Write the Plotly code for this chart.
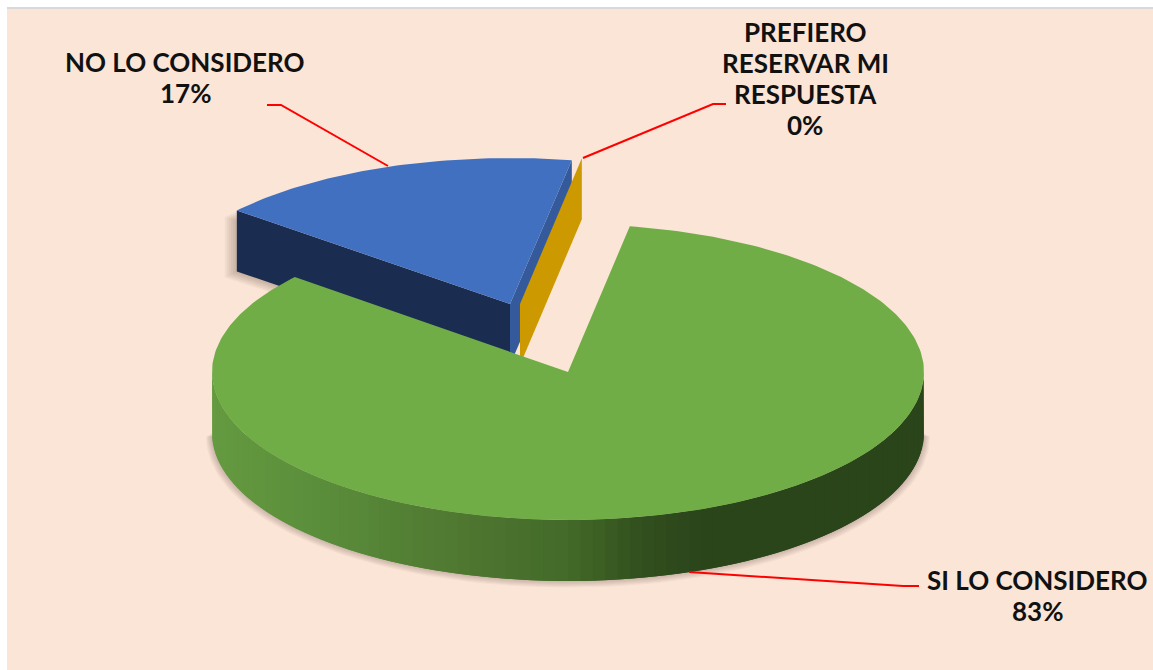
import numpy as np
import plotly.graph_objects as go

categories = ["SI LO CONSIDERO", "NO LO CONSIDERO", "PREFIERO RESERVAR MI RESPUESTA"]
values = [83.3, 16.7, 0.0]
label_lines = [["SI LO CONSIDERO"], ["NO LO CONSIDERO"], ["PREFIERO", "RESERVAR MI", "RESPUESTA"]]

# Pie geometry (pixel-like axis units) and styling
FIRST_ANGLE = 10.0
RX, RY, BLUE_RY, DEPTH = 356.0, 148.0, 146.0, 61.0
CENTERS = {0: (568.0, 372.0), 1: (510.0, 304.0), 2: (520.0, 304.0)}
LABEL_POS = {0: (1037, 580), 1: (185, 62), 2: (805, 32)}
LINE_STEP = 31
BG = "#FBE5D6"
GREEN_TOP, BLUE_TOP = "#70AD47", "#4070BF"
BLUE_WALL, BLUE_CUT, GOLD = "#1A2C50", "#355A9C", "#CC9900"
WALL_STOPS = [(212, (100, 154, 64)), (330, (90, 140, 58)), (470, (78, 118, 48)),
              (568, (67, 106, 40)), (640, (50, 80, 30)), (700, (43, 69, 27)), (924, (43, 69, 27))]

fig = go.Figure()


def pt(c, deg, dz=0.0, rx=RX, ry=RY):
    a = np.radians(deg)
    return c[0] + rx * np.sin(a), c[1] - ry * np.cos(a) + dz


def poly(xs, ys, color, line=0.0):
    fig.add_trace(go.Scatter(x=list(xs), y=list(ys), mode="lines", fill="toself", fillcolor=color,
                             line=dict(color=color, width=line), hoverinfo="skip", showlegend=False))


def wall_color(x):
    xs = [s[0] for s in WALL_STOPS]
    rgb = [int(round(np.interp(x, xs, [s[1][i] for s in WALL_STOPS]))) for i in range(3)]
    return f"rgb({rgb[0]},{rgb[1]},{rgb[2]})"


# slice angles derived from the values
total = sum(values)
spans, start = [], FIRST_ANGLE
for v in values:
    spans.append((start, start + v / total * 360.0))
    start += v / total * 360.0

# green shadow
c0 = CENTERS[0]
for off in range(1, 7):
    t = np.linspace(90, 270, 120)
    x, y = pt(c0, t, DEPTH + off * 0.6, RX + off, RY + off * 0.5)
    poly(x, y, "rgba(70,50,40,0.045)")

# blue slice
c1 = CENTERS[1]
b0, b1 = spans[1]
lx, ly = pt(c1, b0, ry=BLUE_RY)
rx_, ry_ = pt(c1, b1, ry=BLUE_RY)
for off in range(1, 7):
    poly([lx - off * 2, c1[0], c1[0], lx - off * 2],
         [ly + off, c1[1] + off, c1[1] + DEPTH + off, ly + DEPTH + off], "rgba(70,50,40,0.05)")
poly([lx, c1[0], c1[0], lx], [ly, c1[1], c1[1] + DEPTH, ly + DEPTH], BLUE_WALL)
poly([c1[0], rx_, rx_, c1[0]], [c1[1], ry_, ry_ + DEPTH, c1[1] + DEPTH], BLUE_CUT)
t = np.linspace(b0, b1, 60)
ax, ay = pt(c1, t, ry=BLUE_RY)
poly([c1[0], *ax], [c1[1], *ay], BLUE_TOP)

# gold slice: zero-size slice, only its cut face shows
c2 = CENTERS[2]
gx, gy = pt(c2, spans[2][0])
poly([c2[0], gx, gx, c2[0]], [c2[1], gy, gy + DEPTH, c2[1] + DEPTH], GOLD)

# green slice: front wall as overlapping bands (no seams), then the top face
g0, g1 = spans[0]
STEP = 2.0
edges = np.arange(90, 270, STEP)
for a0 in edges:
    a1 = min(a0 + 2 * STEP, 270.0)
    t = np.linspace(a0, a1, 7)
    tx, ty = pt(c0, t)
    bx, by = pt(c0, t[::-1], DEPTH)
    poly([*tx, *bx], [*ty, *by], wall_color(pt(c0, a0 + STEP / 2)[0]))
t = np.linspace(g0, g1, 300)
ax, ay = pt(c0, t)
poly([c0[0], *ax], [c0[1], *ay], GREEN_TOP)

# text labels, one annotation per line for exact leading
annotations = []
for i, lines in enumerate(label_lines):
    for j, line in enumerate(lines + [f"{round(values[i])}%"]):
        annotations.append(dict(x=LABEL_POS[i][0], y=LABEL_POS[i][1] + j * LINE_STEP, xref="x", yref="y",
                                text=line, showarrow=False, xanchor="center", yanchor="middle",
                                font=dict(family="Lato", size=26, color="#111111", weight=700)))

RED = dict(color="#FF0000", width=2)
leaders = [[(689, 572), (903, 586), (919, 586)],
           [(267, 105), (281, 105), (388, 166)],
           [(583, 158), (713, 104), (726, 104)]]
shapes = [
    dict(type="rect", xref="x", yref="y", x0=7, x1=1153, y0=9, y1=670, fillcolor=BG, line_width=0, layer="below"),
    dict(type="rect", xref="x", yref="y", x0=7, x1=1153, y0=7, y1=9, fillcolor="#D9D9D9", line_width=0, layer="below"),
]
for pts in leaders:
    path = "M " + " L ".join(f"{a},{b}" for a, b in pts)
    shapes.append(dict(type="path", xref="x", yref="y", path=path, line=RED))

fig.update_layout(
    width=1153, height=670, margin=dict(l=0, r=0, t=0, b=0),
    paper_bgcolor="white", plot_bgcolor="white", showlegend=False,
    xaxis=dict(range=[0, 1153], visible=False, fixedrange=True),
    yaxis=dict(range=[670, 0], visible=False, fixedrange=True),
    annotations=annotations, shapes=shapes,
)
fig.write_html("out.html", post_script="document.body.style.margin='0';", config={"displayModeBar": False})
